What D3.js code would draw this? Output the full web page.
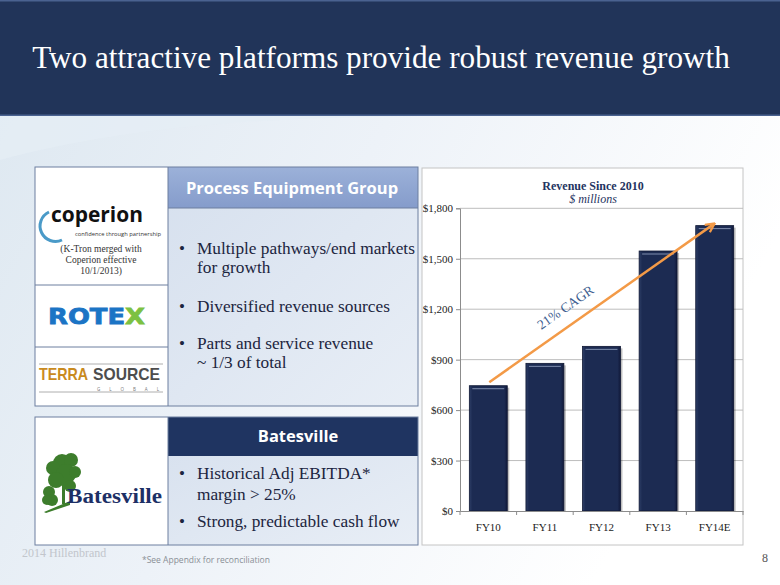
<!DOCTYPE html>
<html><head><meta charset="utf-8">
<script src="https://cdn.jsdelivr.net/npm/d3@7"></script>
<style>html,body{margin:0;padding:0;background:#fff;}svg{display:block;}</style>
</head><body>
<svg id="c" width="780" height="585"></svg>
<script>
// ---- data ----
const categories = ["FY10", "FY11", "FY12", "FY13", "FY14E"];
const revenue = [745, 878, 979, 1546, 1697];
const yTicks = [0, 300, 600, 900, 1200, 1500, 1800];
const pegBullets = [["Multiple pathways/end markets", "for growth"], ["Diversified revenue sources"], ["Parts and service revenue", "~ 1/3 of total"]];
const batBullets = [["Historical Adj EBITDA*", "margin > 25%"], ["Strong, predictable cash flow"]];

const svg = d3.select("#c");
const defs = svg.append("defs");
const serif = "'Liberation Serif','Times New Roman',serif";
const sans = "'Open Sans','Noto Sans',sans-serif";

// background
const bg = defs.append("linearGradient").attr("id","bg").attr("x1",0).attr("y1",0).attr("x2",1).attr("y2",0.4);
bg.append("stop").attr("offset",0).attr("stop-color","#dce7f0");
bg.append("stop").attr("offset",0.5).attr("stop-color","#edf2f8");
bg.append("stop").attr("offset",1).attr("stop-color","#ffffff");
svg.append("rect").attr("width",780).attr("height",585).attr("fill","url(#bg)");
svg.append("path").attr("d","M0,160 C150,120 300,118 420,116 L0,116 Z").attr("fill","#e6eef5").attr("opacity",0.7);

// title band
svg.append("rect").attr("x",0).attr("y",0).attr("width",780).attr("height",116).attr("fill","#213459");
svg.append("rect").attr("x",0).attr("y",0).attr("width",780).attr("height",1.5).attr("fill","#4a6290");
svg.append("rect").attr("x",0).attr("y",114.5).attr("width",780).attr("height",1.5).attr("fill","#4a6290");
svg.append("text").attr("x",381).attr("y",68).attr("text-anchor","middle")
  .attr("font-family",serif).attr("font-size",31.2).attr("fill","#ffffff")
  .text("Two attractive platforms provide robust revenue growth");

// ---- left panels ----
const pegHead = defs.append("linearGradient").attr("id","pegHead").attr("x1",0).attr("y1",0).attr("x2",0).attr("y2",1);
pegHead.append("stop").attr("offset",0).attr("stop-color","#9cb1d9");
pegHead.append("stop").attr("offset",1).attr("stop-color","#859ccb");
const body = defs.append("linearGradient").attr("id","body").attr("x1",0).attr("y1",0).attr("x2",1).attr("y2",1);
body.append("stop").attr("offset",0).attr("stop-color","#d6e0ee");
body.append("stop").attr("offset",1).attr("stop-color","#e8eef6");

// PEG box
svg.append("rect").attr("x",168).attr("y",167).attr("width",250).attr("height",239).attr("fill","url(#body)");
svg.append("rect").attr("x",168).attr("y",167).attr("width",250).attr("height",41).attr("fill","url(#pegHead)");
svg.append("rect").attr("x",35).attr("y",167).attr("width",133).attr("height",239).attr("fill","#ffffff");
svg.append("rect").attr("x",35).attr("y",167).attr("width",383).attr("height",239).attr("fill","none").attr("stroke","#6d7f9f").attr("stroke-width",1);
svg.append("line").attr("x1",168).attr("x2",168).attr("y1",167).attr("y2",406).attr("stroke","#6d7f9f");
svg.append("line").attr("x1",168).attr("x2",418).attr("y1",208).attr("y2",208).attr("stroke","#6d7f9f");
svg.append("line").attr("x1",35).attr("x2",168).attr("y1",285).attr("y2",285).attr("stroke","#6d7f9f");
svg.append("line").attr("x1",35).attr("x2",168).attr("y1",347).attr("y2",347).attr("stroke","#6d7f9f");
svg.append("text").attr("x",292).attr("y",194).attr("text-anchor","middle").attr("font-family",sans)
  .attr("font-weight","bold").attr("font-size",16.5).attr("fill","#ffffff").text("Process Equipment Group");

const pegY = [254, 312, 349];
pegBullets.forEach((lines,i)=>{
  svg.append("text").attr("x",179).attr("y",pegY[i]).attr("font-family",serif).attr("font-size",17).attr("fill","#1c2540").text("•");
  lines.forEach((t,j)=>svg.append("text").attr("x",197).attr("y",pegY[i]+j*19).attr("font-family",serif)
    .attr("font-size",17.3).attr("fill","#1c2540").text(t));
});

// Batesville box
svg.append("rect").attr("x",168).attr("y",417).attr("width",250).attr("height",128).attr("fill","url(#body)");
svg.append("rect").attr("x",168).attr("y",417).attr("width",250).attr("height",39).attr("fill","#1f3461");
svg.append("rect").attr("x",35).attr("y",417).attr("width",133).attr("height",128).attr("fill","#ffffff");
svg.append("rect").attr("x",35).attr("y",417).attr("width",383).attr("height",128).attr("fill","none").attr("stroke","#6d7f9f");
svg.append("line").attr("x1",168).attr("x2",168).attr("y1",417).attr("y2",545).attr("stroke","#6d7f9f");
svg.append("text").attr("x",298).attr("y",442).attr("text-anchor","middle").attr("font-family",sans)
  .attr("font-weight","bold").attr("font-size",16.5).attr("fill","#ffffff").text("Batesville");
const batY = [479, 527];
batBullets.forEach((lines,i)=>{
  svg.append("text").attr("x",179).attr("y",batY[i]).attr("font-family",serif).attr("font-size",17).attr("fill","#1c2540").text("•");
  lines.forEach((t,j)=>svg.append("text").attr("x",197).attr("y",batY[i]+j*20.5).attr("font-family",serif)
    .attr("font-size",17.3).attr("fill","#1c2540").text(t));
});

// logos
// coperion
svg.append("path").attr("d","M49,212 A15,15 0 0 0 62,240").attr("fill","none").attr("stroke","#4a9ac8").attr("stroke-width",3);
svg.append("text").attr("x",51).attr("y",222).attr("font-family",sans).attr("font-weight","bold").attr("font-size",21)
  .attr("fill","#111").attr("textLength",92).attr("lengthAdjust","spacingAndGlyphs").text("coperion");
svg.append("text").attr("x",75).attr("y",235.5).attr("font-family",sans).attr("font-size",6).attr("fill","#333")
  .attr("textLength",86).attr("lengthAdjust","spacingAndGlyphs").text("confidence through partnership");
["(K-Tron merged with","Coperion effective","10/1/2013)"].forEach((t,i)=>
  svg.append("text").attr("x",101).attr("y",252+i*11).attr("text-anchor","middle").attr("font-family",serif).attr("font-size",9.5).attr("fill","#333").text(t));
// rotex
const rt = svg.append("text").attr("x",48).attr("y",324).attr("font-family","'DejaVu Sans',sans-serif").attr("font-weight","bold")
  .attr("font-size",22).attr("stroke-width",0.8).attr("textLength",97).attr("lengthAdjust","spacingAndGlyphs");
rt.append("tspan").attr("fill","#1b74c5").attr("stroke","#1b74c5").text("ROTE");
rt.append("tspan").attr("fill","#7cc142").attr("stroke","#7cc142").text("X");
// terrasource
svg.append("line").attr("x1",39).attr("x2",163).attr("y1",364).attr("y2",364).attr("stroke","#999").attr("stroke-width",0.8);
svg.append("line").attr("x1",39).attr("x2",163).attr("y1",392).attr("y2",392).attr("stroke","#999").attr("stroke-width",0.8);
svg.append("text").attr("x",39).attr("y",380).attr("font-family","'Liberation Sans Narrow','Liberation Sans',sans-serif").attr("font-weight","bold")
  .attr("font-size",17).attr("fill","#c98a1e").attr("textLength",49).attr("lengthAdjust","spacingAndGlyphs").text("TERRA");
svg.append("text").attr("x",93).attr("y",380).attr("font-family","'Liberation Sans Narrow','Liberation Sans',sans-serif").attr("font-weight","bold")
  .attr("font-size",17).attr("fill","#4d4d4d").attr("textLength",67).attr("lengthAdjust","spacingAndGlyphs").text("SOURCE");
svg.append("text").attr("x",97).attr("y",390.5).attr("font-family",sans).attr("font-size",4.5).attr("fill","#777")
  .attr("textLength",62).attr("lengthAdjust","spacing").text("GLOBAL");
// batesville tree
const tree = svg.append("g").attr("fill","#3d7d2c");
[[62,463,9],[71,460,7],[53,468,7],[66,474,10],[75,472,6],[56,480,8],[70,486,6],[49,492,6],[52,500,6],[47,500,5]].forEach(c=>
  tree.append("circle").attr("cx",c[0]).attr("cy",c[1]).attr("r",c[2]));
tree.append("rect").attr("x",62).attr("y",478).attr("width",3).attr("height",26);
tree.append("path").attr("d","M44,512 L70,501 L70,505 L46,513 Z");
svg.append("text").attr("x",67).attr("y",503).attr("font-family",serif).attr("font-weight","bold").attr("font-size",20)
  .attr("fill","#1d2f66").attr("textLength",95).attr("lengthAdjust","spacingAndGlyphs").text("Batesville");

// ---- chart ----
svg.append("rect").attr("x",422).attr("y",168).attr("width",321).attr("height",377).attr("fill","#ffffff").attr("stroke","#c4c4c4").attr("stroke-width",1);
svg.append("text").attr("x",593).attr("y",190).attr("text-anchor","middle").attr("font-family",serif).attr("font-weight","bold")
  .attr("font-size",12).attr("fill","#1f3461").text("Revenue Since 2010");
svg.append("text").attr("x",593).attr("y",203).attr("text-anchor","middle").attr("font-family",serif).attr("font-style","italic")
  .attr("font-size",12).attr("fill","#1f3461").text("$ millions");

const x = d3.scaleBand().domain(categories).range([460, 743]).paddingInner(0.33).paddingOuter(0.165);
const y = d3.scaleLinear().domain([0, 1800]).range([511, 208.3]);

svg.append("g").selectAll("line").data(yTicks.slice(1)).join("line")
  .attr("x1",460).attr("x2",743).attr("y1",d=>y(d)).attr("y2",d=>y(d)).attr("stroke","#bdbdbd").attr("stroke-width",1);

const yAxis = svg.append("g").attr("transform","translate(460,0)")
  .call(d3.axisLeft(y).tickValues(yTicks).tickSize(4).tickFormat(d=>"$"+d3.format(",")(d)));
yAxis.selectAll("text").attr("font-family",serif).attr("font-size",11).attr("fill","#222");
yAxis.selectAll("line,path").attr("stroke","#8c8c8c");

// bars
const barG = defs.append("linearGradient").attr("id","barG").attr("x1",0).attr("y1",0).attr("x2",1).attr("y2",0);
barG.append("stop").attr("offset",0).attr("stop-color","#2d3e66");
barG.append("stop").attr("offset",0.08).attr("stop-color","#1c2b52");
barG.append("stop").attr("offset",0.92).attr("stop-color","#1c2b52");
barG.append("stop").attr("offset",1).attr("stop-color","#11193a");
const bars = svg.append("g");
bars.selectAll("rect.sh").data(revenue).join("rect").attr("class","sh")
  .attr("x",(d,i)=>x(categories[i])+2).attr("y",d=>y(d)+2).attr("width",x.bandwidth()).attr("height",d=>y(0)-y(d)-2)
  .attr("fill","#000").attr("opacity",0.25);
bars.selectAll("rect.b").data(revenue).join("rect").attr("class","b")
  .attr("x",(d,i)=>x(categories[i])).attr("y",d=>y(d)).attr("width",x.bandwidth()).attr("height",d=>y(0)-y(d))
  .attr("fill","url(#barG)").attr("stroke","#0e1632").attr("stroke-width",0.8);
bars.selectAll("line.hl").data(revenue).join("line").attr("class","hl")
  .attr("x1",(d,i)=>x(categories[i])+3).attr("x2",(d,i)=>x(categories[i])+x.bandwidth()-3)
  .attr("y1",d=>y(d)+3).attr("y2",d=>y(d)+3).attr("stroke","#7f8eae").attr("stroke-width",1);

const xAxis = svg.append("g").attr("transform","translate(0,511)")
  .call(d3.axisBottom(x).tickSize(0).tickPadding(12));
xAxis.selectAll("text").attr("font-family",serif).attr("font-size",11).attr("fill","#222");
xAxis.select("path").attr("stroke","#8c8c8c");
svg.append("g").selectAll("line").data(d3.range(categories.length+1)).join("line")
  .attr("x1",i=>460+i*x.step()).attr("x2",i=>460+i*x.step()).attr("y1",511).attr("y2",515).attr("stroke","#8c8c8c");

// CAGR arrow
const arr = defs.append("marker").attr("id","ah").attr("viewBox","0 0 10 10").attr("refX",8).attr("refY",5)
  .attr("markerWidth",4.5).attr("markerHeight",4.5).attr("orient","auto");
arr.append("path").attr("d","M1,1 L9,5 L1,9").attr("fill","none").attr("stroke","#f39a47").attr("stroke-width",2);
const a0 = [x("FY10")+x.bandwidth()/2+1, y(revenue[0])-3.5];
const a1 = [x("FY14E")+x.bandwidth()/2-1, y(revenue[4])-1.5];
svg.append("line").attr("x1",a0[0]).attr("y1",a0[1]).attr("x2",a1[0]).attr("y2",a1[1])
  .attr("stroke","#f39a47").attr("stroke-width",2.5).attr("marker-end","url(#ah)");
const ang = Math.atan2(a1[1]-a0[1], a1[0]-a0[0])*180/Math.PI;
svg.append("text").attr("transform",`translate(568,311) rotate(${ang})`).attr("text-anchor","middle")
  .attr("font-family",serif).attr("font-size",13.5).attr("fill","#3d5e8f").text("21% CAGR");

// footer
svg.append("text").attr("x",22).attr("y",557).attr("font-family",serif).attr("font-size",12).attr("fill","#c2c6cc").text("2014 Hillenbrand");
svg.append("text").attr("x",142).attr("y",563).attr("font-family",sans).attr("font-size",8.5).attr("fill","#8a8f96").text("*See Appendix for reconciliation");
svg.append("text").attr("x",765).attr("y",562).attr("text-anchor","middle").attr("font-family",serif).attr("font-size",12).attr("fill","#555").text("8");
</script>
</body></html>
